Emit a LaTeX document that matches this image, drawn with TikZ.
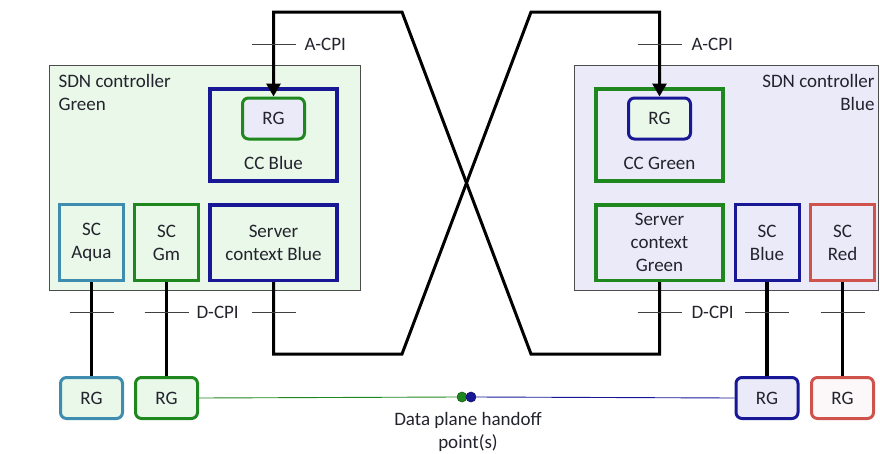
\documentclass[tikz,border=0pt]{standalone}
\usepackage{fontspec}
\setmainfont{Carlito}
\usepackage{xcolor}
\usepackage{tikz}
\usetikzlibrary{arrows.meta, positioning, calc}
\definecolor{ctrlgreen}{RGB}{233, 248, 233}
\definecolor{ctrlblue}{RGB}{234, 234, 248}
\definecolor{navyline}{RGB}{24, 24, 150}
\definecolor{greenline}{RGB}{30, 135, 30}
\definecolor{aqualine}{RGB}{62, 140, 174}
\definecolor{redline}{RGB}{208, 82, 76}
\definecolor{textgray}{RGB}{35, 35, 45}
\tikzset{
  font=\fontsize{19}{23}\selectfont,
  every node/.style={text=textgray},
  ctrlbox/.style={
    rectangle, draw=black!70, line width=0.8pt, inner sep=0pt
  },
  ccbox/.style={
    rectangle, line width=3.5pt, minimum width=127pt, minimum height=92pt, inner sep=0pt
  },
  scbox/.style={
    rectangle, line width=3pt, minimum width=64pt, minimum height=76pt,
    align=center, inner sep=0pt
  },
  serverbox/.style={scbox, line width=3.5pt, minimum width=127pt, minimum height=75.5pt},
  rgbox/.style={
    rectangle, rounded corners=6pt, line width=3pt,
    minimum width=62pt, minimum height=41pt, inner sep=0pt
  },
  cpline/.style={
    draw=black, line width=3pt, line join=miter
  },
  dcpline/.style={cpline, line width=3.8pt},
  cparrow/.style={
    cpline, -{Triangle[length=13pt, width=14pt]}
  },
  tickline/.style={draw=black!75, line width=0.8pt},
  handoff/.style={circle, line width=0.6pt, minimum size=10pt, inner sep=0pt}
}

\begin{document}
\begin{tikzpicture}[x=1pt, y=-1pt]
  \useasboundingbox (0,0) rectangle (880,453);

  % SDN controllers
  \node[ctrlbox, fill=ctrlgreen, minimum width=311pt, minimum height=225pt] (ctrlG) at (204.5,177.5) {};
  \node[ctrlbox, fill=ctrlblue, minimum width=304pt, minimum height=225pt] (ctrlB) at (726,177.5) {};
  \node[anchor=north west, align=left] (ctrlGtxt) at (55,71) {SDN controller\\Green};
  \node[anchor=north east, align=right] (ctrlBtxt) at (878,71) {SDN controller\\Blue};

  % Customer contexts
  \node[ccbox, draw=navyline, fill=ctrlgreen] (ccB) at (273.5,135) {};
  \node[rgbox, draw=greenline, fill=ctrlblue] (rgccB) at (273.5,118.5) {RG};
  \node (ccBtxt) at (273.5,163) {CC Blue};

  \node[ccbox, draw=greenline, fill=ctrlblue] (ccG) at (659.5,135) {};
  \node[rgbox, draw=navyline, fill=ctrlgreen] (rgccG) at (659.5,118.5) {RG};
  \node (ccGtxt) at (659.5,163) {CC Green};

  % Server contexts
  \node[scbox, draw=aqualine, fill=ctrlgreen] (scAqua) at (91.5,242.5) {SC\\Aqua};
  \node[scbox, draw=greenline, fill=ctrlgreen] (scGm) at (166.5,242.5) {SC\\Gm};
  \node[serverbox, draw=navyline, fill=ctrlgreen] (srvB) at (273.5,242.5) {Server\\context Blue};

  \node[serverbox, draw=greenline, fill=ctrlblue] (srvG) at (659.5,242.5) {Server\\context\\Green};
  \node[scbox, draw=navyline, fill=ctrlblue] (scBlue) at (767,242.5) {SC\\Blue};
  \node[scbox, draw=redline, fill=ctrlblue] (scRed) at (842.5,242.5) {SC\\Red};

  % Resource groups
  \node[rgbox, draw=aqualine, fill=ctrlgreen] (rgAqua) at (91.5,398) {RG};
  \node[rgbox, draw=greenline, fill=ctrlgreen] (rgGm) at (166.5,398) {RG};
  \node[rgbox, draw=navyline, fill=ctrlblue] (rgBlue) at (767,398) {RG};
  \node[rgbox, draw=redline, fill=ctrlblue!60!redline!8] (rgRed) at (842.5,398) {RG};

  % D-CPI links
  \draw[dcpline] (scAqua.south) -- (rgAqua.north);
  \draw[dcpline] (scGm.south) -- (rgGm.north);
  \draw[dcpline] (scBlue.south) -- (rgBlue.north);
  \draw[dcpline] (scRed.south) -- (rgRed.north);

  % A-CPI cross links
  \draw[cparrow] (srvB.south) -- (273.5,354) -- (402,354) -- (531,12) -- (659.5,12) -- (rgccG.north);
  \draw[cparrow] (srvG.south) -- (659.5,354) -- (531,354) -- (402,12) -- (273.5,12) -- (rgccB.north);

  % Interface ticks
  \foreach \tx in {273.5, 659.5}
    \draw[tickline] (\tx-22,44) -- (\tx+22,44);
  \foreach \tx in {91.5, 166.5, 273.5, 659.5, 767, 842.5}
    \draw[tickline] (\tx-22,312) -- (\tx+22,312);
  \node[anchor=west] (acpiL) at (301,44) {A-CPI};
  \node[anchor=west] (acpiR) at (688,44) {A-CPI};
  \node[anchor=west] (dcpiL) at (193,312) {D-CPI};
  \node[anchor=west] (dcpiR) at (688,312) {D-CPI};

  % Data plane handoff
  \node[handoff, draw=greenline!70!black, fill=greenline] (hoG) at (462,397) {};
  \node[handoff, draw=navyline!70!black, fill=navyline] (hoB) at (471,397) {};
  \draw[greenline, line width=0.9pt] (rgGm.east) -- (hoG.west);
  \draw[navyline, line width=0.9pt] (hoB.east) -- (rgBlue.west);
  \node[align=center] (hoTxt) at (468,432) {Data plane handoff\\point(s)};

\end{tikzpicture}
\end{document}
